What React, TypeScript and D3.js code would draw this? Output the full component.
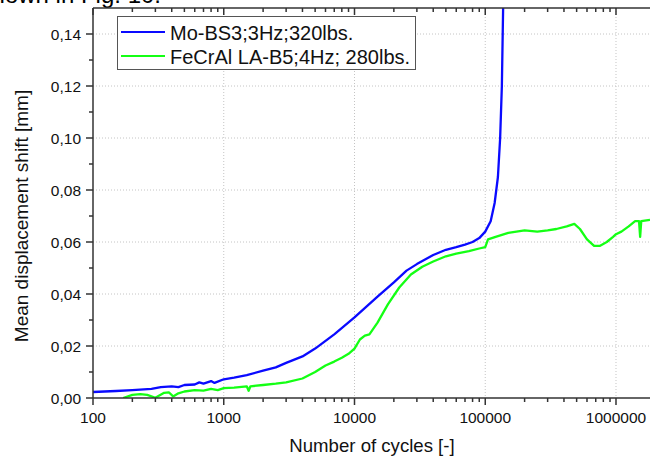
import * as d3 from 'd3';
import React from 'react';

// blue curve: Mo-BS3
const moCycles = [100, 150, 200, 280, 330, 400, 450, 500, 600, 650, 700, 800, 850, 1000, 1200, 1500, 2000, 2500, 3000, 4000, 5000, 7000, 10000, 15000, 20000, 25000, 30000, 40000, 50000, 60000, 70000, 80000, 90000, 100000, 110000, 118000, 125000, 130000, 134000, 137000, 139000];
const moShift = [0.0023, 0.0027, 0.0030, 0.0035, 0.0042, 0.0045, 0.0042, 0.0050, 0.0052, 0.0060, 0.0055, 0.0065, 0.0058, 0.0072, 0.0078, 0.0088, 0.0105, 0.0118, 0.0135, 0.0160, 0.0190, 0.0245, 0.0310, 0.0390, 0.0445, 0.0490, 0.0515, 0.0550, 0.0570, 0.0580, 0.0590, 0.0600, 0.0615, 0.0640, 0.0680, 0.0750, 0.0850, 0.1000, 0.1200, 0.1500, 0.1700];

// green curve: FeCrAl
const feCycles = [170, 200, 230, 260, 300, 350, 380, 410, 450, 500, 600, 700, 800, 900, 1000, 1200, 1500, 1550, 1600, 2000, 2500, 3000, 4000, 5000, 6000, 7000, 8000, 9000, 10000, 11000, 12000, 13000, 15000, 18000, 22000, 27000, 33000, 40000, 50000, 60000, 75000, 90000, 100000, 105000, 120000, 150000, 200000, 250000, 300000, 350000, 420000, 480000, 530000, 600000, 680000, 750000, 850000, 950000, 1000000, 1100000, 1250000, 1400000, 1500000, 1530000, 1560000, 1820000];
const feShift = [0.0000, 0.0012, 0.0015, 0.0012, 0.0001, 0.0020, 0.0022, 0.0006, 0.0018, 0.0025, 0.0030, 0.0028, 0.0035, 0.0030, 0.0038, 0.0040, 0.0045, 0.0028, 0.0045, 0.0050, 0.0055, 0.0060, 0.0075, 0.0100, 0.0125, 0.0140, 0.0155, 0.0170, 0.0190, 0.0225, 0.0240, 0.0245, 0.0290, 0.0360, 0.0425, 0.0475, 0.0505, 0.0525, 0.0545, 0.0555, 0.0565, 0.0575, 0.0580, 0.0610, 0.0620, 0.0635, 0.0645, 0.0640, 0.0645, 0.0650, 0.0660, 0.0670, 0.0650, 0.0610, 0.0585, 0.0585, 0.0600, 0.0620, 0.0630, 0.0640, 0.0660, 0.0680, 0.0680, 0.0620, 0.0680, 0.0685];

const xMajor = [100, 1000, 10000, 100000, 1000000];
const yMajor = [0, 0.02, 0.04, 0.06, 0.08, 0.10, 0.12, 0.14];
const legendLabels = ['Mo-BS3;3Hz;320lbs.', 'FeCrAl LA-B5;4Hz; 280lbs.'];
const seriesColors = ['#0a0aff', '#14ff14'];

const W = 650, H = 461;
const left = 93, right = 650, top = 8, bottom = 398;
const axisColor = '#333';
const font = 'Liberation Sans, Arial, sans-serif';

function App() {
  const x = d3.scaleLog().domain([100, 1.82e6]).range([left, right]);
  const y = d3.scaleLinear().domain([0, 0.15]).range([bottom, top]);

  // minor ticks 2..9 in each decade
  const xMinor: number[] = [];
  for (let d = 100; d <= 1e6; d *= 10) {
    for (let k = 2; k <= 9; k++) {
      if (d * k <= 1.82e6) xMinor.push(d * k);
    }
  }
  const yMinor = d3.range(0.01, 0.15, 0.02);

  const line = d3.line<[number, number]>()
    .x(d => x(d[0]))
    .y(d => y(d[1]));

  const moPath = line(moCycles.map((c, i) => [c, moShift[i]] as [number, number])) || '';
  const fePath = line(feCycles.map((c, i) => [c, feShift[i]] as [number, number])) || '';

  const fmt = (v: number) => v.toFixed(2).replace('.', ',');

  return (
    <svg width={W} height={H} style={{ position: 'absolute', left: 0, top: 0, background: '#fff' }} fontFamily={font}>
      {/* remnant of the page text above the figure (cut in the source too) */}
      <text x={161} y={3} fontSize={24} textAnchor="end" fill="#000">shown in Fig. 10.</text>

      <defs>
        <clipPath id="plotclip">
          <rect x={left} y={top} width={right - left} height={bottom - top} />
        </clipPath>
      </defs>

      {/* grid */}
      <g stroke="#c4c4c4" strokeDasharray="1,2" strokeWidth={1}>
        {yMajor.filter(v => v > 0).map(v => (
          <line key={'gy' + v} x1={left} x2={right} y1={y(v)} y2={y(v)} />
        ))}
        {xMajor.filter(v => v > 100).map(v => (
          <line key={'gx' + v} x1={x(v)} x2={x(v)} y1={top} y2={bottom} />
        ))}
      </g>

      {/* curves */}
      <g clipPath="url(#plotclip)" fill="none" strokeLinejoin="round">
        <path d={fePath} stroke={seriesColors[1]} strokeWidth={2.3} />
        <path d={moPath} stroke={seriesColors[0]} strokeWidth={2.3} />
      </g>

      {/* axes */}
      <g stroke={axisColor} strokeWidth={1.5}>
        <line x1={left} x2={right} y1={bottom} y2={bottom} />
        <line x1={left} x2={right} y1={top} y2={top} />
        <line x1={left} x2={left} y1={top} y2={bottom} />
        {xMajor.map(v => (
          <g key={'xt' + v}>
            <line x1={x(v)} x2={x(v)} y1={bottom} y2={bottom + 7} />
            <line x1={x(v)} x2={x(v)} y1={top} y2={top + 7} />
          </g>
        ))}
        {xMinor.map(v => (
          <g key={'xm' + v}>
            <line x1={x(v)} x2={x(v)} y1={bottom} y2={bottom + 4} />
            <line x1={x(v)} x2={x(v)} y1={top} y2={top + 4} />
          </g>
        ))}
        {yMajor.map(v => (
          <line key={'yt' + v} x1={left - 7} x2={left} y1={y(v)} y2={y(v)} />
        ))}
        {yMinor.map(v => (
          <line key={'ym' + v} x1={left - 4} x2={left} y1={y(v)} y2={y(v)} />
        ))}
      </g>

      {/* tick labels */}
      <g fontSize={15.5} fill="#111">
        {xMajor.map(v => (
          <text key={'xl' + v} x={x(v)} y={bottom + 25} textAnchor="middle">{String(v)}</text>
        ))}
        {yMajor.map(v => (
          <text key={'yl' + v} x={left - 12} y={y(v) + 5.5} textAnchor="end">{fmt(v)}</text>
        ))}
      </g>

      {/* axis titles */}
      <text x={372} y={452} fontSize={18.6} textAnchor="middle" fill="#111">Number of cycles [-]</text>
      <text transform={`translate(28,216) rotate(-90)`} fontSize={19} textAnchor="middle" fill="#111">Mean displacement shift [mm]</text>

      {/* legend */}
      <g>
        <rect x={117.5} y={16.5} width={298} height={53} fill="#fff" stroke="#555" strokeWidth={1} />
        {legendLabels.map((lab, i) => (
          <g key={lab}>
            <line x1={121} x2={165} y1={32 + i * 24} y2={32 + i * 24} stroke={seriesColors[i]} strokeWidth={2} />
            <text x={170} y={39.5 + i * 24} fontSize={20} fill="#111">{lab}</text>
          </g>
        ))}
      </g>
    </svg>
  );
}

export default App;
